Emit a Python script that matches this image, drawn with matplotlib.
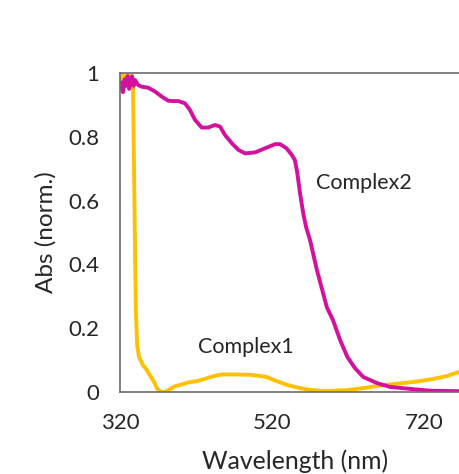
import matplotlib
matplotlib.use("Agg")
import matplotlib.pyplot as plt

# normalised absorption spectra, read as (wavelength nm, abs)
complex2_wl = [320, 322, 324, 326, 328, 330, 332, 334, 336, 338, 339.7, 344, 348.5,
               357, 366, 375, 383.6, 390, 396.7, 405.5, 412, 418.7, 427.5, 436, 445,
               451.6, 458, 467, 475.7, 484.5, 497.6, 510.8, 524, 530.5, 539, 546, 550,
               553, 557, 561, 565, 570, 579, 586, 592, 600, 609.5, 619, 629, 640, 658,
               675, 705, 728, 780]
complex2_abs = [0.95, 0.97, 0.94, 0.98, 0.96, 0.99, 0.95, 0.97, 0.99, 0.96, 0.978, 0.962,
                0.957, 0.954, 0.942, 0.926, 0.913, 0.912, 0.912, 0.905, 0.884, 0.853,
                0.829, 0.829, 0.837, 0.832, 0.806, 0.78, 0.759, 0.748, 0.751, 0.764,
                0.777, 0.777, 0.764, 0.743, 0.727, 0.69, 0.62, 0.56, 0.515, 0.476,
                0.382, 0.32, 0.266, 0.226, 0.163, 0.11, 0.075, 0.047, 0.028, 0.016,
                0.009, 0.004, 0.002]

complex1_wl = [320, 322, 324, 326, 328, 330, 332, 334, 336, 337, 338, 339, 340, 341,
               342.5, 345, 350, 355, 360, 365, 369, 374, 379, 385, 392, 399, 410, 421,
               430, 438, 447, 455, 470, 491, 505, 513, 525, 540, 557, 570, 587, 600,
               619, 640, 658, 680, 705, 730, 750, 766, 780]
complex1_abs = [0.97, 1.0, 0.97, 0.99, 0.98, 1.0, 0.97, 0.99, 0.98, 0.97, 0.8, 0.6, 0.4,
                0.25, 0.15, 0.11, 0.085, 0.07, 0.05, 0.03, 0.01, 0.0, 0.0, 0.008, 0.018,
                0.022, 0.03, 0.034, 0.04, 0.046, 0.052, 0.055, 0.055, 0.054, 0.05,
                0.047, 0.035, 0.022, 0.012, 0.007, 0.003, 0.004, 0.006, 0.012, 0.019,
                0.025, 0.031, 0.04, 0.05, 0.063, 0.07]

x_ticks = [320, 520, 720]
y_ticks = [0, 0.2, 0.4, 0.6, 0.8, 1]
y_tick_labels = ["0", "0.2", "0.4", "0.6", "0.8", "1"]

plt.rcParams["font.family"] = ["Lato", "DejaVu Sans"]

fig = plt.figure(figsize=(4.59, 4.74), dpi=100)
# plot area runs past the right edge of the figure
ax = fig.add_axes([0.2614, 0.173, 0.762, 0.673])

ax.plot(complex1_wl, complex1_abs, color="#FFC000", lw=2.8,
        solid_joinstyle="round", solid_capstyle="round")
ax.plot(complex2_wl, complex2_abs, color="#D4119E", lw=2.8,
        solid_joinstyle="round", solid_capstyle="round")

ax.set_xlim(320, 780)
ax.set_ylim(0, 1)
ax.set_xticks(x_ticks)
ax.set_yticks(y_ticks)
ax.set_yticklabels(y_tick_labels)
ax.tick_params(length=0, labelsize=16, colors="#262626")
ax.tick_params(axis="y", pad=15)
ax.tick_params(axis="x", pad=15)
for side in ("left", "bottom", "top", "right"):
    ax.spines[side].set_color("#6b6b6b")
    ax.spines[side].set_linewidth(1.2)

ax.set_xlabel("Wavelength (nm)", fontsize=17.8, color="#262626", labelpad=12)
ax.set_ylabel("Abs (norm.)", fontsize=17.5, color="#262626", labelpad=8)

ax.text(641, 0.655, "Complex2", fontsize=15.5, color="#262626", ha="center", va="center")
ax.text(485, 0.141, "Complex1", fontsize=15.5, color="#262626", ha="center", va="center")

fig.savefig("out.png", dpi=100)
